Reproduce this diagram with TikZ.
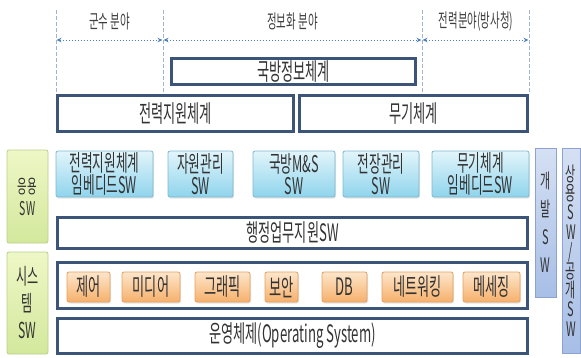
\documentclass[tikz,border=0pt]{standalone}
\usepackage{fontspec}
\newfontfamily\kr[FakeStretch=0.55]{Noto Sans CJK KR}
\usetikzlibrary{arrows.meta,shadows}
\definecolor{navy}{HTML}{3C5478}
\definecolor{txt}{HTML}{333333}
\definecolor{hdr}{HTML}{404040}
\definecolor{vline}{HTML}{A3B3CA}
\definecolor{arr}{HTML}{4F81BD}
\definecolor{cyanT}{HTML}{E2F5FB}
\definecolor{cyanB}{HTML}{8FD4EC}
\definecolor{cyanD}{HTML}{7DB8CE}
\definecolor{orT}{HTML}{FDE6CB}
\definecolor{orB}{HTML}{F6B06B}
\definecolor{orD}{HTML}{E3A060}
\definecolor{grT}{HTML}{EEF7C6}
\definecolor{grM}{HTML}{F4FAD8}
\definecolor{grB}{HTML}{D3E89C}
\definecolor{grD}{HTML}{B9CF8A}
\definecolor{blT}{HTML}{D5E0F3}
\definecolor{blB}{HTML}{A7BEE6}
\definecolor{blD}{HTML}{8BA3CE}
\tikzset{
  navybox/.style={draw=navy, line width=3pt, fill=white, inner sep=0pt, text=txt,
    font=\kr\fontsize{24}{24}\selectfont},
  cyanbox/.style={draw=cyanD, line width=0.8pt, rounded corners=2pt, top color=cyanT,
    bottom color=cyanB, inner sep=0pt, align=center, text=txt,
    drop shadow={opacity=0.2, shadow xshift=1pt, shadow yshift=-1.5pt},
    font=\kr\fontsize{23}{22}\selectfont},
  orbox/.style={draw=orD, line width=0.8pt, rounded corners=2pt, top color=orT,
    bottom color=orB, inner sep=0pt, text=txt, minimum height=30pt,
    drop shadow={opacity=0.2, shadow xshift=1pt, shadow yshift=-1.5pt},
    font=\kr\fontsize{24}{24}\selectfont},
  grbox/.style={draw=grD, line width=0.8pt, rounded corners=2pt, top color=grT,
    middle color=grM, bottom color=grB, inner sep=0pt, align=center, text=txt,
    minimum width=41pt},
  blbox/.style={draw=blD, line width=0.8pt, top color=blT, bottom color=blB,
    inner sep=0pt, align=center, text=txt},
  hdrlabel/.style={text=hdr, inner sep=0pt, font=\kr\fontsize{19}{19}\selectfont},
  vdash/.style={draw=vline, line width=0.8pt, dash pattern=on 4pt off 2pt},
  harrow/.style={draw=arr, line width=0.9pt, dash pattern=on 1.5pt off 1.5pt,
    {Stealth[length=5pt,width=4.5pt,fill=arr]}-{Stealth[length=5pt,width=4.5pt,fill=arr]}},
}
\begin{document}
\begin{tikzpicture}[x=1pt,y=-1pt]
\useasboundingbox (0,0) rectangle (581,357);
% header
\coordinate (t1) at (56,10);  \coordinate (b1) at (56,94);
\coordinate (t2) at (163,10); \coordinate (b2) at (163,94);
\coordinate (t3) at (422,10); \coordinate (b3) at (422,94);
\coordinate (t4) at (529,10); \coordinate (b4) at (529,94);
\draw[vdash] (t1) -- (b1);
\draw[vdash] (t2) -- (b2);
\draw[vdash] (t3) -- (b3);
\draw[vdash] (t4) -- (b4);
\coordinate (h1) at (56.5,40);
\coordinate (h2) at (162.5,40);
\coordinate (h2b) at (163.5,40);
\coordinate (h3) at (421.5,40);
\coordinate (h3b) at (422.5,40);
\coordinate (h4) at (528.5,40);
\draw[harrow] (h1) -- (h2);
\draw[harrow] (h2b) -- (h3);
\draw[harrow] (h3b) -- (h4);
\node[hdrlabel] (l1) at (109.5,21) {군수 분야};
\node[hdrlabel] (l2) at (292.5,21) {정보화 분야};
\node[hdrlabel] (l3) at (476,21) {전력분야(방사청)};
% upper systems
\node[navybox, minimum width=244pt, minimum height=26pt] (info) at (293.5,71.5) {국방정보체계};
\node[navybox, minimum width=236pt, minimum height=36pt] (jr) at (175.5,113.5) {전력지원체계};
\node[navybox, minimum width=228pt, minimum height=36pt] (mg) at (413.5,113.5) {무기체계};
% application sw
\node[cyanbox, minimum width=97pt, minimum height=46pt] (c1) at (104.5,174) {전력지원체계\\임베디드SW};
\node[cyanbox, minimum width=65pt, minimum height=46pt] (c2) at (200.5,174) {자원관리\\SW};
\node[cyanbox, minimum width=82pt, minimum height=46pt] (c3) at (294,174) {국방M\&S\\SW};
\node[cyanbox, minimum width=76pt, minimum height=46pt] (c4) at (381,174) {전장관리\\SW};
\node[cyanbox, minimum width=97pt, minimum height=46pt] (c5) at (480.5,174) {무기체계\\임베디드SW};
\node[navybox, minimum width=470pt, minimum height=31pt] (hj) at (292.5,233) {행정업무지원SW};
% system sw
\node[navybox, minimum width=470pt, minimum height=46pt] (sys) at (292.5,285.5) {};
\node[orbox, minimum width=43pt] (o1) at (88.5,287) {제어};
\node[orbox, minimum width=58pt] (o2) at (151,287) {미디어};
\node[orbox, minimum width=55pt] (o3) at (222.5,287) {그래픽};
\node[orbox, minimum width=33pt] (o4) at (281.5,287) {보안};
\node[orbox, minimum width=45pt] (o5) at (344.5,287) {DB};
\node[orbox, minimum width=71pt] (o6) at (417.5,287) {네트워킹};
\node[orbox, minimum width=57pt] (o7) at (491.5,287) {메세징};
\node[navybox, minimum width=470pt, minimum height=35pt] (os) at (292.5,336) {운영체제(Operating System)};
% left labels
\node[grbox, minimum height=93pt, font=\kr\fontsize{19}{22}\selectfont] (g1) at (27.5,196.5) {응용\\SW};
\node[grbox, minimum height=102pt, font=\kr\fontsize{22}{27}\selectfont] (g2) at (27.5,303) {시스\\템\\SW};
% right labels
\node[blbox, minimum width=21pt, minimum height=149pt, font=\kr\fontsize{20}{28}\selectfont] (d1) at (545.5,222.5) {개\\발\\S\\W};
\node[blbox, minimum width=18pt, minimum height=205pt, font=\kr\fontsize{20}{19.4}\selectfont] (d2) at (571,250.5) {상\\용\\S\\W\\/\\공\\개\\S\\W};
\end{tikzpicture}
\end{document}
